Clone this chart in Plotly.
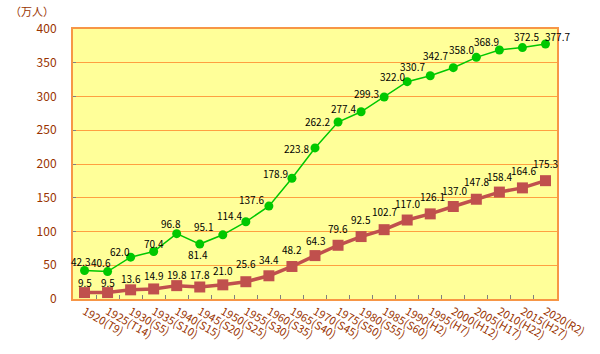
import plotly.graph_objects as go

years = ["1920", "1925", "1930", "1935", "1940", "1945", "1950", "1955", "1960", "1965",
         "1970", "1975", "1980", "1985", "1990", "1995", "2000", "2005", "2010", "2015", "2020"]
eras = ["T9", "T14", "S5", "S10", "S15", "S20", "S25", "S30", "S35", "S40",
        "S45", "S50", "S55", "S60", "H2", "H7", "H12", "H17", "H22", "H27", "R2"]
green_vals = [42.3, 40.6, 62.0, 70.4, 96.8, 81.4, 95.1, 114.4, 137.6, 178.9, 223.8,
              262.2, 277.4, 299.3, 322.0, 330.7, 342.7, 358.0, 368.9, 372.5, 377.7]
red_vals = [9.5, 9.5, 13.6, 14.9, 19.8, 17.8, 21.0, 25.6, 34.4, 48.2, 64.3,
            79.6, 92.5, 102.7, 117.0, 126.1, 137.0, 147.8, 158.4, 164.6, 175.3]
y_ticks = [0, 50, 100, 150, 200, 250, 300, 350, 400]

cats = [f"{y}({e})" for y, e in zip(years, eras)]

# label offsets in pixels (dx right, dy down) relative to the point
green_dx = [-4, -7, -11, 0, -6, -2, -19, -16, -17, -16, -19, -21, -18, -18, -15, -18, -18, -15, -13, 4, 12]
green_dy = [-9, -9, -6, -8, -10, 10, -8, -6, -7, -5, 1, -1, -3, -3, -5, -9, -12, -8, -8, -11, -8]
red_dx = [0] * 15 + [2, 1, 0, 0, 1, 0]
red_dy = [-10, -10, -11, -13, -11, -12, -14, -18, -16, -17, -15, -17, -17, -18, -17, -17, -16, -18, -16, -17, -17]

label_font = dict(family="Noto Sans CJK JP, DejaVu Sans", size=10, color="#000000")

fig = go.Figure()
fig.add_trace(go.Scatter(
    x=cats, y=green_vals, mode="lines+markers",
    line=dict(color="#00C800", width=1.5),
    marker=dict(symbol="circle", size=9, color="#00C800"),
    hoverinfo="skip", cliponaxis=False,
))
fig.add_trace(go.Scatter(
    x=cats, y=red_vals, mode="lines+markers",
    line=dict(color="#C0504D", width=3.5),
    marker=dict(symbol="square", size=11, color="#C0504D"),
    hoverinfo="skip", cliponaxis=False,
))

annotations = []
for vals, dxs, dys in ((green_vals, green_dx, green_dy), (red_vals, red_dx, red_dy)):
    for c, v, dx, dy in zip(cats, vals, dxs, dys):
        annotations.append(dict(
            x=c, y=v, text=f"{v:.1f}", showarrow=False,
            xanchor="center", yanchor="middle", xshift=dx, yshift=-dy,
            font=label_font,
        ))
annotations.append(dict(
    text="（万人）", xref="paper", yref="paper", x=-0.084, y=1.065,
    xanchor="center", yanchor="middle", showarrow=False,
    font=dict(size=11, color="#993300"),
))

fig.update_layout(
    width=600, height=354,
    margin=dict(l=73, r=37, t=29, b=51),
    paper_bgcolor="white", plot_bgcolor="#FFFF99",
    showlegend=False,
    font=dict(family="Noto Sans CJK JP, DejaVu Sans", color="#993300"),
    annotations=annotations,
)
fig.update_xaxes(
    type="category", range=[-0.5, len(cats) - 0.5],
    tickson="boundaries", ticks="inside", ticklen=4, tickcolor="#808080",
    tickangle=30, tickfont=dict(size=11, color="#993300"),
    showline=True, linecolor="#F79646", linewidth=2, mirror=True,
    showgrid=False,
)
fig.update_yaxes(
    range=[0, 400], tickvals=y_ticks, ticks="inside", ticklen=3, tickcolor="#808080",
    tickfont=dict(size=12, color="#993300"), ticklabelstandoff=12,
    showline=True, linecolor="#F79646", linewidth=2, mirror=True,
    showgrid=True, gridcolor="#FFA040", gridwidth=1, zeroline=False,
)

fig.write_html("out.html")
